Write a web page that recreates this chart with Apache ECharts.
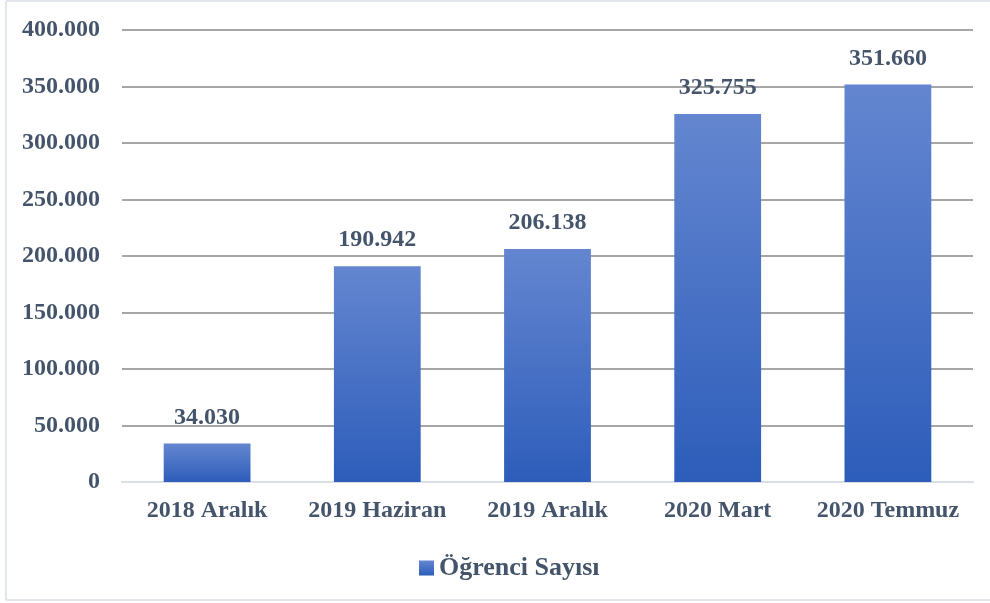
<!DOCTYPE html>
<html>
<head>
<meta charset="utf-8">
<script src="https://cdn.jsdelivr.net/npm/echarts@6/dist/echarts.min.js"></script>
<style>
  html, body { margin: 0; padding: 0; background: #fff; }
  #chart { width: 990px; height: 603px; }
</style>
</head>
<body>
<div id="chart"></div>
<script>
  // veriler
  const categories = ['2018 Aralık', '2019 Haziran', '2019 Aralık', '2020 Mart', '2020 Temmuz'];
  const ogrenciSayisi = [34030, 190942, 206138, 325755, 351660];
  const seriesName = 'Öğrenci Sayısı';

  const textColor = '#44546a';
  const font = '"Liberation Serif", "Times New Roman", serif';

  // 350000 -> 350.000
  function fmt(v) {
    return String(v).replace(/\B(?=(\d{3})+(?!\d))/g, '.');
  }

  const barColor = new echarts.graphic.LinearGradient(0, 0, 0, 1, [
    { offset: 0, color: '#6486d0' },
    { offset: 1, color: '#2d5dba' }
  ]);

  const chart = echarts.init(document.getElementById('chart'));
  chart.setOption({
    animation: false,
    grid: { left: 122, right: 17, top: 30, bottom: 121, containLabel: false },
    legend: {
      left: 414,
      top: 550,
      itemWidth: 15,
      itemHeight: 15,
      itemGap: 4,
      icon: 'rect',
      textStyle: { fontFamily: font, fontWeight: 'bold', fontSize: 26, color: textColor },
      data: [{ name: seriesName, itemStyle: { color: barColor } }]
    },
    xAxis: {
      type: 'category',
      data: categories,
      axisTick: { show: false },
      axisLine: { lineStyle: { color: '#d9dde6', width: 2 } },
      axisLabel: {
        interval: 0, hideOverlap: false,
        fontFamily: font, fontWeight: 'bold', fontSize: 24, color: textColor, margin: 17
      }
    },
    yAxis: {
      type: 'value',
      min: 0,
      max: 400000,
      interval: 50000,
      axisLine: { show: false },
      axisTick: { show: false },
      splitLine: { lineStyle: { color: '#a6a6a6', width: 2 } },
      axisLabel: {
        fontFamily: font, fontWeight: 'bold', fontSize: 24, color: textColor, margin: 22,
        formatter: fmt
      }
    },
    series: [{
      name: seriesName,
      type: 'bar',
      data: ogrenciSayisi,
      barWidth: '51%',
      itemStyle: { color: barColor },
      label: {
        show: true,
        position: 'top',
        distance: 14,
        fontFamily: font, fontWeight: 'bold', fontSize: 24, color: textColor,
        formatter: p => fmt(p.value)
      }
    }],
    graphic: [
      { type: 'line', shape: { x1: 6, y1: 1, x2: 990, y2: 1 }, style: { stroke: '#e3e6ec', lineWidth: 2 } },
      { type: 'line', shape: { x1: 6, y1: 1, x2: 6, y2: 600 }, style: { stroke: '#e3e6ec', lineWidth: 2 } },
      { type: 'line', shape: { x1: 6, y1: 600, x2: 990, y2: 600 }, style: { stroke: '#e3e6ec', lineWidth: 2 } }
    ]
  });
</script>
</body>
</html>
